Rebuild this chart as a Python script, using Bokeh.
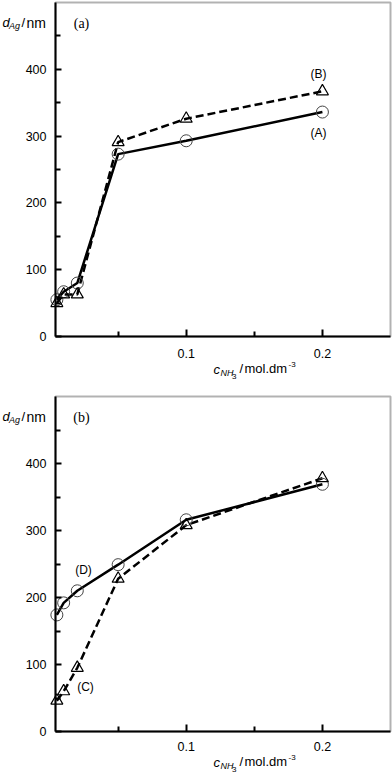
from bokeh.plotting import figure
from bokeh.models import Range1d, FixedTicker, Label, LinearAxis, BoxAnnotation
from bokeh.layouts import column
from bokeh.embed import file_html
from bokeh.resources import INLINE

# ---- data ----
c_nh3 = [0.005, 0.01, 0.02, 0.05, 0.1, 0.2]
d_A = [55, 67, 80, 273, 293, 336]
d_B = [50, 63, 63, 291, 326, 367]
d_D = [174, 192, 210, 249, 316, 369]
d_C = [46, 60, 95, 228, 308, 378]

x_major = [0.1, 0.2]
x_minor = [0.05, 0.15]
y_major = [0, 100, 200, 300, 400]
y_minor = [50, 150, 250, 350, 450]

SANS = "Liberation Sans"
SERIF = "Liberation Serif"

X0, X1 = 0.004, 0.25
Y0, Y1 = 0, 500
W = 392
FL, FR = 55, 2      # space left / right of the axes box (px)
FW = W - FL - FR     # box width in px


def make_panel(height, top, fh, tick_standoff, panel_label, circ, tri,
               circ_lab, tri_lab, xlab_dy):
    sx = (X1 - X0) / FW
    sy = (Y1 - Y0) / fh
    bottom = height - top - fh
    p = figure(width=W, height=height, output_backend="svg",
               toolbar_location=None,
               x_range=Range1d(X0 - FL * sx, X1 + FR * sx),
               y_range=Range1d(Y0 - bottom * sy, Y1 + top * sy),
               x_axis_location=None, y_axis_location=None,
               min_border=0, min_border_left=0, min_border_right=0,
               min_border_top=0, min_border_bottom=0)
    p.grid.visible = False
    p.outline_line_color = None
    p.background_fill_color = "white"
    p.border_fill_color = "white"

    xax = LinearAxis(fixed_location=Y0, bounds=(X0, X1),
                     ticker=FixedTicker(ticks=x_major, minor_ticks=x_minor))
    yax = LinearAxis(fixed_location=X0, bounds=(Y0, Y1),
                     ticker=FixedTicker(ticks=y_major, minor_ticks=y_minor))
    for ax in (xax, yax):
        ax.axis_line_width = 2
        ax.axis_line_color = "black"
        ax.major_tick_out = 0
        ax.minor_tick_out = 0
        ax.major_tick_line_width = 2
        ax.minor_tick_line_width = 2
        ax.major_label_text_font = SANS
        ax.major_label_text_font_size = "12.5px"
        ax.major_label_text_color = "black"
    xax.major_tick_in = 7
    xax.minor_tick_in = 5
    yax.major_tick_in = 6
    yax.minor_tick_in = 5
    yax.major_label_standoff = 9
    xax.major_label_standoff = tick_standoff
    p.add_layout(xax, "below")
    p.add_layout(yax, "left")

    # box (top and right border)
    p.add_layout(BoxAnnotation(left=X0, right=X1, bottom=Y0, top=Y1,
                               fill_alpha=0, line_color="black",
                               line_width=2))

    # px (relative to box top-left) -> data
    def xd(px):
        return X0 + px * sx

    def yd(py):
        return Y1 - py * sy

    def lab(px, py, text, size, font=SANS, style="normal", align="left"):
        p.add_layout(Label(x=xd(px), y=yd(py), text=text, text_font=font,
                           text_font_size=size, text_font_style=style,
                           text_align=align, text_baseline="middle",
                           text_color="black"))

    # series
    p.line(c_nh3, circ, line_color="black", line_width=2.5)
    p.line(c_nh3, tri, line_color="black", line_width=2.5, line_dash="8 4")
    p.scatter(c_nh3, circ, marker="circle", size=12, fill_alpha=0,
              line_color="#444444", line_width=1)
    p.scatter(c_nh3, tri, marker="triangle", size=12, fill_alpha=0,
              line_color="black", line_width=1.2)

    # panel label
    lab(26, 21, panel_label, "14px", font=SERIF, align="center")
    # series labels
    lab(*circ_lab)
    lab(*tri_lab)

    # y axis label: d_Ag / nm
    lab(-53, 20, "d", "13px", style="italic")
    lab(-46.5, 23.5, "Ag", "9px", style="italic")
    lab(-34, 20, "/", "13px")
    lab(-29, 20, "nm", "14px")

    # x axis label: c_NH3 / mol.dm-3
    b = fh + xlab_dy
    lab(158, b, "c", "13px", style="italic")
    lab(165, b + 4, "NH", "9px", style="italic")
    lab(176.5, b + 7.5, "3", "8px")
    lab(184, b - 1, "/", "13px")
    lab(189, b - 1, "mol.dm", "13px")
    lab(233, b - 4.5, "-3", "8px")
    return p


p1 = make_panel(393, 2, 334, 12, "(a)", d_A, d_B,
                (263, 130, "(A)", "12px", SANS, "normal", "center"),
                (263, 71, "(B)", "12px", SANS, "normal", "center"),
                32.5)
p2 = make_panel(382, 3, 335, 10, "(b)", d_D, d_C,
                (28, 173, "(D)", "12px", SANS, "normal", "center"),
                (30, 290, "(C)", "12px", SANS, "normal", "center"),
                30.5)

layout = column(p1, p2, spacing=0)

open("out.html", "w").write(file_html(layout, INLINE))
